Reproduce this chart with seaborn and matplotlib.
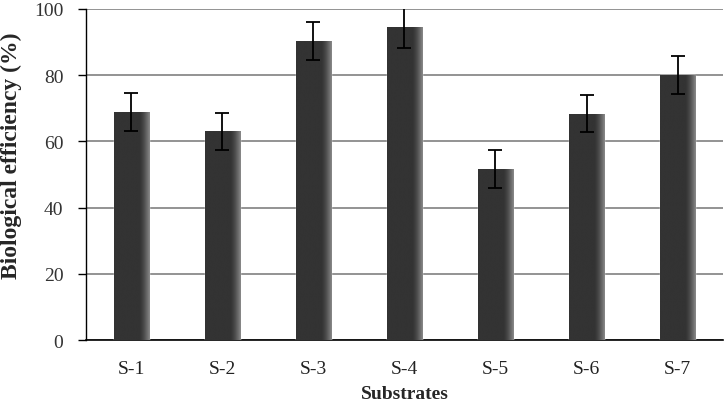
import numpy as np
import pandas as pd
import matplotlib
matplotlib.use("Agg")
import matplotlib.pyplot as plt
import seaborn as sns

# Values
substrates = ["S-1", "S-2", "S-3", "S-4", "S-5", "S-6", "S-7"]
efficiency = [68.9, 63.0, 90.4, 94.4, 51.7, 68.4, 80.1]
errors = [5.7, 5.7, 5.8, 6.2, 5.7, 5.7, 5.8]

df = pd.DataFrame({"Substrate": substrates, "BE": efficiency, "err": errors})

sns.set_theme(style="white")
plt.rcParams["font.family"] = ["Liberation Serif", "DejaVu Serif"]

fig, ax = plt.subplots(figsize=(7.26, 4.14), dpi=100)
sns.barplot(data=df, x="Substrate", y="BE", color="#333333", width=0.385,
            saturation=1, errorbar=None, ax=ax, zorder=3)

# shaded right edge on each bar
grad = np.concatenate([np.zeros(70), np.linspace(0, 1, 30) ** 1.5])
cmap = matplotlib.colors.LinearSegmentedColormap.from_list("g", ["#333333", "#8a8a8a"])
for p in ax.patches:
    x0, y0 = p.get_x(), p.get_y()
    w, h = p.get_width(), p.get_height()
    im = ax.imshow(grad[None, :], extent=(x0, x0 + w, y0, y0 + h), aspect="auto",
                   cmap=cmap, vmin=0, vmax=1, zorder=3)
    im.set_clip_path(p)

ax.errorbar(np.arange(len(substrates)), efficiency, yerr=errors, fmt="none",
            ecolor="black", elinewidth=1.3, capsize=5, capthick=1.3, zorder=4)

ax.set_xlim(-0.5, len(substrates) - 0.5)
ax.set_ylim(0, 100)
ax.set_yticks(range(0, 101, 20))
ax.yaxis.grid(True, color="#808080", linewidth=1.2, zorder=0)
ax.set_axisbelow(True)
for s in ["top", "right"]:
    ax.spines[s].set_visible(False)
ax.spines["left"].set_color("black")
ax.spines["bottom"].set_color("black")
ax.spines["left"].set_linewidth(1.0)
ax.spines["bottom"].set_linewidth(1.2)
ax.tick_params(axis="y", left=True, length=6, width=1, color="black",
               labelsize=14, labelcolor="#333333", pad=10)
ax.tick_params(axis="x", bottom=False, labelsize=14, labelcolor="#222222", pad=8)

ax.set_xlabel("Substrates", fontsize=14, fontweight="bold", labelpad=6)
ax.set_ylabel("Biological efficiency (%)", fontsize=17, fontweight="bold", va="center")
ax.yaxis.set_label_coords(-0.116, 0.56)

fig.subplots_adjust(left=0.118, right=0.996, top=0.976, bottom=0.176)
fig.savefig("out.png", dpi=100)
